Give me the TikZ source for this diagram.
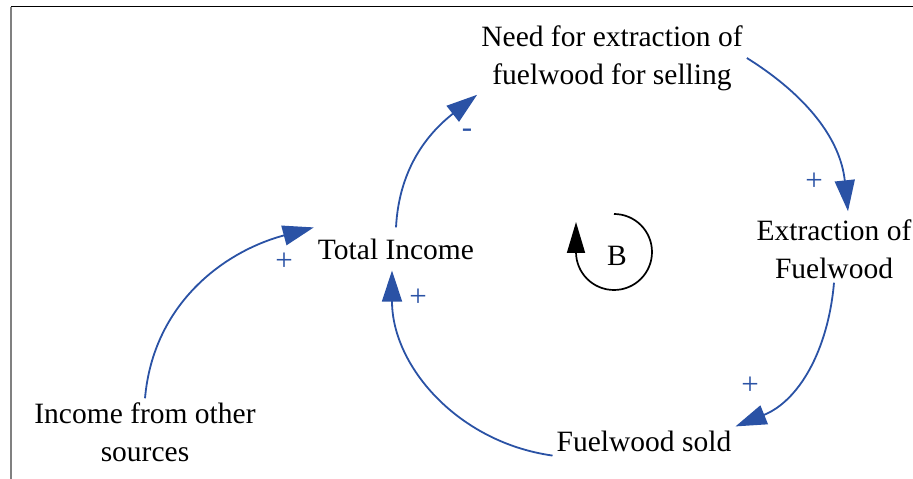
\documentclass[tikz,border=0pt]{standalone}
\usepackage{fontspec}
\setmainfont{Liberation Serif}
\usetikzlibrary{positioning,arrows.meta,calc}
\definecolor{cldblue}{HTML}{2A52A5}

\begin{document}
\begin{tikzpicture}[
  x=1pt, y=1pt,
  font=\fontsize{29.5}{38}\selectfont,
  var/.style={align=center, inner sep=4pt},
  link/.style={draw=cldblue, line width=1.8pt, -{Triangle[length=31pt, width=20pt]}},
  pol/.style={text=cldblue, font=\fontsize{31}{31}\selectfont, inner sep=0pt},
  balarr/.style={draw=black, line width=1.7pt, -{Triangle[length=31pt, width=18pt]}},
]
\useasboundingbox (0,0) rectangle (913,479);
% ---- frame ----
\draw[black, line width=1pt] (11,472) -- (913,472);
\draw[black!50, line width=1.2pt] (11,472) -- (11,0);

% ---- variables ----
\node[var] (need) at (612,421) {Need for extraction of\\fuelwood for selling};
\node[var, inner ysep=11pt] (tot) at (396,230) {Total Income};
\node[var] (ext) at (834,230) {Extraction of\\Fuelwood};
\node[var] (sold) at (644,38) {Fuelwood sold};
\node[var] (inc) at (145,47) {Income from other\\sources};

% ---- causal links ----
\draw[link] (inc.north) to[out=85, in=195] (tot.north west);
\draw[link] (tot.north) to[out=87, in=218] (need.south west);
\draw[link] (need.east) to[out=-32, in=96] ($(ext.north)+(14,4)$);
\draw[link] (ext.south) to[out=-95, in=22] (sold.north east);
\draw[link] (sold.south west) to[out=172, in=-90] ($(tot.south)+(-4,0)$);

% ---- polarities ----
\node[pol] (p1) at (284,217) {+};
\node[pol] (p2) at (467,346) {-};
\node[pol] (p3) at (814,297) {+};
\node[pol] (p4) at (750,93) {+};
\node[pol] (p5) at (418,181) {+};

% ---- balancing loop ----
\node (bal) at (617,223) {B};
\coordinate (bc) at (614,227);
\draw[balarr] ($(bc)+(0,38)$) arc[start angle=90, end angle=-180, radius=38pt] -- ++(0,30);
\end{tikzpicture}
\end{document}
